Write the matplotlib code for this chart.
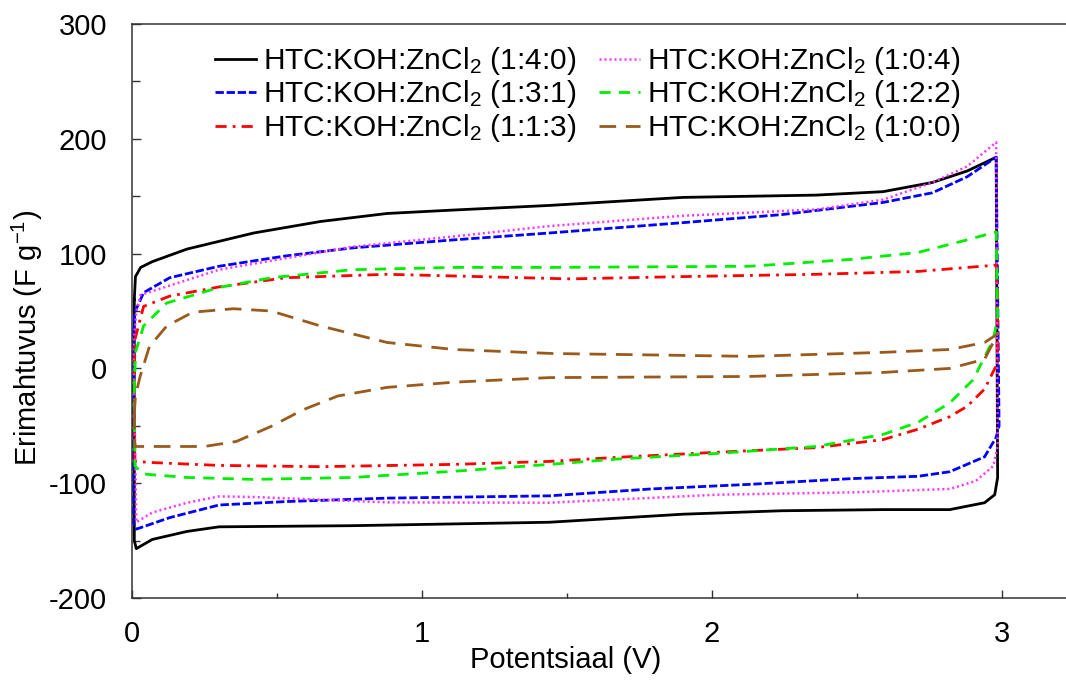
import matplotlib
matplotlib.use("Agg")
import matplotlib.pyplot as plt
from matplotlib.ticker import MultipleLocator

plt.rcParams["font.family"] = ["Liberation Sans", "DejaVu Sans"]
plt.rcParams["mathtext.fontset"] = "custom"
plt.rcParams["mathtext.rm"] = "Liberation Sans"
plt.rcParams["mathtext.default"] = "regular"
plt.rcParams["axes.unicode_minus"] = False

# CV loops (potential in V, capacitance in F/g)
black_v = [0.008, 0.012, 0.03, 0.07, 0.19, 0.42, 0.65, 0.88, 1.11, 1.44, 1.90, 2.36, 2.59, 2.76, 2.88, 2.98,
           2.985, 2.975, 2.94, 2.82, 2.59, 2.24, 1.90, 1.44, 0.76, 0.30, 0.19, 0.07, 0.015, 0.008, 0.008]
black_c = [60, 80, 88, 93, 104, 118, 128, 135, 138, 142, 149, 151, 154, 162, 172, 184,
           -95, -110, -117, -123, -123, -124, -127, -134, -137, -138, -142, -149, -157, -150, 60]

blue_v = [0.005, 0.01, 0.04, 0.13, 0.30, 0.53, 0.76, 1.11, 1.44, 1.90, 2.24, 2.59, 2.76, 2.88, 2.98,
          2.99, 2.98, 2.94, 2.82, 2.71, 2.48, 2.13, 1.79, 1.44, 0.88, 0.53, 0.30, 0.13, 0.015, 0.005, 0.005]
blue_c = [30, 49, 66, 79, 89, 98, 105, 112, 118, 127, 134, 144.6, 153, 167, 184,
          -50, -60, -77, -90, -94, -96, -101, -105, -111, -113, -116, -119, -130, -140, -135, 30]

mag_v = [0.005, 0.015, 0.03, 0.30, 0.76, 1.11, 1.44, 1.90, 2.36, 2.59, 2.76, 2.88, 2.98,
         2.985, 2.97, 2.91, 2.82, 2.48, 2.02, 1.44, 0.88, 0.42, 0.30, 0.19, 0.07, 0.015, 0.005]
mag_c = [20, 50, 64, 86, 106, 115, 124, 133, 138.5, 147, 162, 176, 197,
         -68, -85, -98, -105, -108, -110, -117, -116.7, -112, -111.5, -117, -125.5, -134, 20]

green_v = [0.008, 0.012, 0.04, 0.12, 0.30, 0.48, 0.76, 1.11, 1.44, 2.13, 2.48, 2.71, 2.88, 2.98,
           2.985, 2.97, 2.90, 2.82, 2.71, 2.59, 2.36, 2.02, 1.67, 1.44, 1.11, 0.76, 0.42, 0.19, 0.04, 0.01, 0.008]
green_c = [-20, 14, 37, 57, 70.5, 79, 86, 88, 88, 89, 95, 101, 112, 119,
           45, 25, -10, -30, -47, -57.5, -68, -74, -79, -83.6, -89.6, -95, -96.7, -95, -92, -85, -20]

red_v = [0.008, 0.01, 0.04, 0.13, 0.30, 0.53, 0.88, 1.51, 1.90, 2.36, 2.71, 2.98,
         2.985, 2.985, 2.94, 2.88, 2.82, 2.71, 2.59, 2.36, 2.02, 1.67, 1.44, 1.11, 0.65, 0.30, 0.07, 0.01, 0.008]
red_c = [-20, 25, 54, 63, 71, 79, 82, 78, 80, 82, 84.5, 90,
         69, 5, -18, -33, -42, -53, -62, -69, -73, -77.5, -81, -83.6, -85.6, -84.5, -82, -81, -20]

brown_v = [0.008, 0.012, 0.028, 0.06, 0.12, 0.21, 0.35, 0.48, 0.65, 0.88, 1.11, 1.45, 2.13, 2.59, 2.82, 2.94, 2.985,
           2.94, 2.82, 2.59, 2.13, 1.44, 1.11, 0.88, 0.71, 0.59, 0.48, 0.36, 0.25, 0.07, 0.01, 0.008]
brown_c = [-40, -24, -7, 19, 37, 49, 52, 50, 37, 22.6, 16.5, 13, 10.5, 14, 16.5, 22.6, 30,
           8, 0, -3.5, -7, -8, -12, -16.5, -24, -36, -50.5, -63.6, -68, -68, -68, -40]

labels = ["HTC:KOH:ZnCl$_2$ (1:4:0)", "HTC:KOH:ZnCl$_2$ (1:3:1)", "HTC:KOH:ZnCl$_2$ (1:1:3)",
          "HTC:KOH:ZnCl$_2$ (1:0:4)", "HTC:KOH:ZnCl$_2$ (1:2:2)", "HTC:KOH:ZnCl$_2$ (1:0:0)"]

fig = plt.figure(figsize=(10.66, 6.8), dpi=100)
ax = fig.add_axes([0.1238, 0.1206, 0.876, 0.844])

lw = 2.0
h_black, = ax.plot(black_v, black_c, color="black", lw=lw, label=labels[0])
h_blue, = ax.plot(blue_v, blue_c, color="#0000ff", lw=lw, dashes=(3, 1), label=labels[1])
h_red, = ax.plot(red_v, red_c, color="#ff0000", lw=lw, dashes=(4, 2.2, 1, 2.2), label=labels[2])
h_mag, = ax.plot(mag_v, mag_c, color="#ff33ff", lw=1.8, dashes=(0.8, 1.2), label=labels[3])
h_green, = ax.plot(green_v, green_c, color="#00ee00", lw=lw, dashes=(4, 3), label=labels[4])
h_brown, = ax.plot(brown_v, brown_c, color="#9a5a1c", lw=lw, dashes=(6, 3.5), label=labels[5])

ax.set_xlim(0, 3.22)
ax.set_ylim(-200, 300)
ax.xaxis.set_major_locator(MultipleLocator(1))
ax.xaxis.set_minor_locator(MultipleLocator(0.5))
ax.yaxis.set_major_locator(MultipleLocator(100))
ax.yaxis.set_minor_locator(MultipleLocator(50))
ax.tick_params(which="both", direction="in", labelsize=21, color="#333333")
ax.tick_params(axis="y", which="major", length=6.5, width=1, pad=18)
ax.tick_params(axis="y", which="minor", length=6, width=1)
ax.tick_params(axis="x", which="major", length=6, width=1, pad=16)
ax.tick_params(axis="x", which="minor", length=3.5, width=1)

for side in ["left", "bottom", "top"]:
    ax.spines[side].set_color("#333333")
    ax.spines[side].set_linewidth(1.1)
ax.spines["right"].set_visible(False)

ax.set_xlabel("Potentsiaal (V)", fontsize=21)
ax.xaxis.set_label_coords(0.464, -0.083)
ax.set_ylabel("Erimahtuvus (F g$^{-1}$)", fontsize=21)
ax.yaxis.set_label_coords(-0.093, 0.453)

ax.legend(handles=[h_black, h_blue, h_red, h_mag, h_green, h_brown], ncol=2, frameon=False,
          fontsize=21.5, loc="upper left", bbox_to_anchor=(0.066, 1.0), handlelength=1.4,
          handletextpad=0.23, columnspacing=0.74, labelspacing=0.05, borderaxespad=0.3)

fig.savefig("out.png", dpi=100)
